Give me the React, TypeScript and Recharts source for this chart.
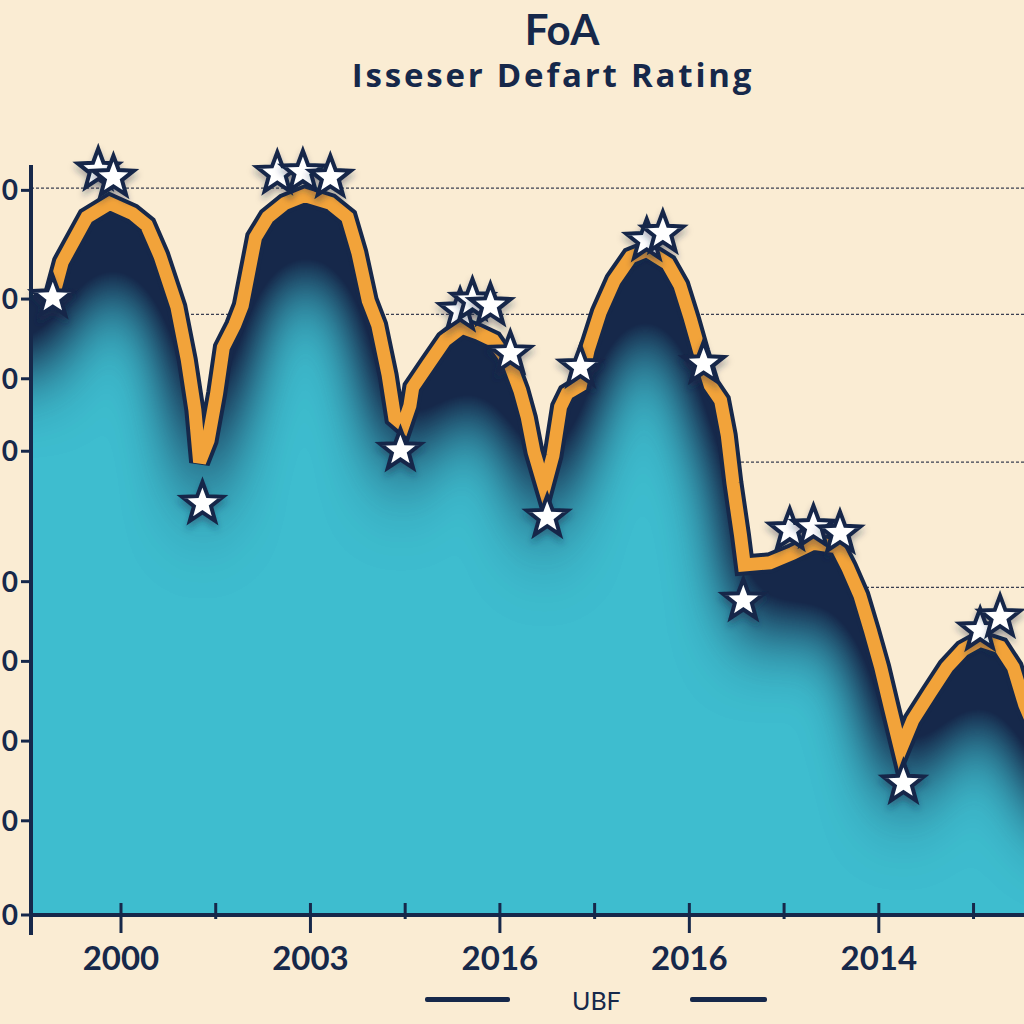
import React from "react";
import { Area, CartesianGrid, ComposedChart, Legend, Line, Scatter, XAxis, YAxis } from "recharts";

const NAVY = "#16284a";
const ORANGE = "#f2a33a";
const CYAN = "#3ebdcf";
const PAPER = "#faecd3";

const TITLE = "FoA";
const SUBTITLE = "Isseser Defart Rating";
const SERIES_NAME = "UBF";

// line vertices (period, rating)
const lineX = [
    2.8, 3.8, 6.4, 8.8, 11.2, 12.7, 14.1, 15.9, 17.0, 17.8, 18.3, 19.2, 20.1, 20.8, 22.0, 22.8, 24.2, 25.5, 27.3, 29.4,
    32.1, 33.9, 35.0, 36.1, 37.1, 38.2, 38.9, 39.8, 40.5, 40.8, 42.4, 44.2, 46.0, 47.7, 49.3, 51.1, 52.1, 52.9, 53.6,
    54.7, 55.6, 56.4, 57.1, 58.5, 59.3, 60.6, 62.1, 63.8, 65.5, 67.7, 69.0, 70.1, 71.1, 72.2, 73.3, 74.0, 74.6, 75.4,
    75.8, 78.5, 80.9, 83.1, 85.6, 86.7, 88.0, 89.1, 90.2, 91.2, 92.3, 93.6, 95.4, 97.2, 98.9, 100.7, 102.8, 104.2,
    105.4, 107.0,
];
const lineY = [
    85.2, 90.1, 96.3, 98.2, 96.8, 95.2, 91.0, 83.9, 76.6, 69.7, 62.5, 65.5, 72.0, 78.3, 81.4, 84.1, 93.5, 96.3, 98.2,
    99.3, 98.2, 96.3, 91.4, 84.8, 81.4, 74.5, 68.6, 67.6, 70.3, 72.8, 75.9, 79.3, 81.1, 80.3, 79.3, 75.9, 72.4, 68.6,
    63.9, 59.0, 63.4, 70.1, 72.0, 73.1, 77.9, 83.2, 87.6, 90.8, 91.7, 89.9, 86.9, 82.3, 77.7, 73.1, 71.0, 66.2, 59.6,
    52.4, 48.3, 48.6, 49.9, 51.3, 50.8, 48.0, 44.1, 39.3, 34.2, 28.7, 22.8, 26.9, 30.6, 34.2, 36.6, 37.9, 37.0, 34.2,
    29.0, 24.1,
];

// extra area edges that run past the plot on both sides
const areaHeadX = [-15, 0.5];
const areaHeadY = [85.6, 85.6];
const areaTailX = [125];
const areaTailY = [14];

// star markers
const starX = [
    2.8, 7.6, 9.2, 18.6, 26.5, 29.2, 32.1, 39.5, 45.8, 47.1, 49.0, 51.1, 55.0, 58.5, 65.5, 67.2, 71.5, 75.7, 80.6,
    83.1, 85.9, 92.6, 100.7, 102.8,
];
const starY = [
    85.2, 102.8, 101.8, 56.8, 102.3, 102.5, 101.8, 64.1, 83.4, 84.8, 84.1, 77.5, 54.9, 75.6, 93.1, 94.1, 76.1, 43.4,
    53.1, 53.5, 52.7, 18.2, 39.3, 41.1,
];

const xTickValues = [10, 20, 30, 40, 50, 60, 70, 80, 90, 100];
const xTickLabels = ["2000", "", "2003", "", "2016", "", "2016", "", "2014", ""];
const yTickValues = [0, 13, 24, 35, 46, 64, 74, 85, 100];
const yTickLabels = ["0", "0", "0", "0", "0", "0", "0", "0", "0"];
const gridValues = [100.3, 82.9, 62.5, 45.2];
const X_DOMAIN = [0.5, 110.5];
const Y_MAX = 103.5;

const linePoints = lineX.map((x, i) => ({ x, v: lineY[i] }));
const areaPoints = [
    ...areaHeadX.map((x, i) => ({ x, v: areaHeadY[i] })),
    ...linePoints,
    ...areaTailX.map((x, i) => ({ x, v: areaTailY[i] })),
];
const starPoints = starX.map((x, i) => ({ x, v: starY[i] }));

const FONT = "Lato, 'Open Sans', sans-serif";

function gridRows(props: any) {
    const { yAxis, offset } = props;
    const sc = yAxis && yAxis.scale;
    if (typeof sc === "function") return gridValues.map((v) => sc(v));
    if (sc && typeof sc.map === "function") return gridValues.map((v) => sc.map(v));
    return gridValues.map((v) => offset.top + offset.height * (1 - v / Y_MAX));
}

function XTick({ x, y, payload }: any) {
    const label = xTickLabels[xTickValues.indexOf(payload.value)] ?? "";
    return (
        <g>
            <line x1={x} x2={x} y1={y - 12} y2={y + (label ? 18 : 4)} stroke={NAVY} strokeWidth={3} />
            {label && (
                <text x={x} y={y + 55} textAnchor="middle" fill={NAVY} fontSize={33} fontWeight={700} fontFamily={FONT}>
                    {label}
                </text>
            )}
        </g>
    );
}

function YTick({ x, y, payload }: any) {
    const label = yTickLabels[yTickValues.indexOf(payload.value)] ?? "";
    return (
        <g>
            <line x1={x - 10} x2={x} y1={y} y2={y} stroke={NAVY} strokeWidth={3} />
            {payload.value === 0 && <line x1={x} x2={x} y1={y} y2={y + 20} stroke={NAVY} strokeWidth={4} />}
            <text x={x - 13} y={y + 10} textAnchor="end" fill={NAVY} fontSize={28} fontWeight={700} fontFamily={FONT}>
                {label}
            </text>
        </g>
    );
}

function StarMark({ cx, cy }: any) {
    const pts: string[] = [];
    for (let i = 0; i < 10; i++) {
        const r = i % 2 === 0 ? 21.5 : 9;
        const a = -Math.PI / 2 + (i * Math.PI) / 5;
        pts.push(`${cx + r * Math.cos(a)},${cy + r * Math.sin(a)}`);
    }
    return (
        <polygon
            points={pts.join(" ")}
            fill="#ffffff"
            stroke={NAVY}
            strokeWidth={4}
            strokeLinejoin="miter"
            filter="url(#starShadow)"
        />
    );
}

function LegendRow() {
    return (
        <div style={{ height: 49, display: "flex", alignItems: "center", paddingLeft: 425, fontFamily: FONT }}>
            <div style={{ width: 85, height: 5, background: NAVY, borderRadius: 2 }} />
            <span style={{ marginLeft: 62, marginRight: 69, fontSize: 25, color: NAVY, fontWeight: 400 }}>
                {SERIES_NAME}
            </span>
            <div style={{ width: 77, height: 5, background: NAVY, borderRadius: 2 }} />
        </div>
    );
}

export default function App() {
    return (
        <div
            style={{
                position: "absolute",
                left: 0,
                top: 0,
                width: 1024,
                height: 1024,
                overflow: "hidden",
                background: PAPER,
            }}
        >
            <div
                style={{
                    position: "absolute",
                    left: 562,
                    top: 8,
                    transform: "translateX(-50%)",
                    fontFamily: FONT,
                    fontWeight: 700,
                    fontSize: 42,
                    lineHeight: 1,
                    color: NAVY,
                    whiteSpace: "nowrap",
                }}
            >
                {TITLE}
            </div>
            <div
                style={{
                    position: "absolute",
                    left: 553,
                    top: 58,
                    transform: "translateX(-50%)",
                    fontFamily: "'Open Sans', sans-serif",
                    fontWeight: 700,
                    fontSize: 33,
                    letterSpacing: 2.8,
                    lineHeight: 1,
                    color: NAVY,
                    whiteSpace: "nowrap",
                }}
            >
                {SUBTITLE}
            </div>

            <ComposedChart width={1073} height={1024} margin={{ top: 165, right: 0, bottom: 0, left: 0 }}>
                <defs>
                    <filter id="inset" x="-20%" y="-20%" width="140%" height="140%" colorInterpolationFilters="sRGB">
                        <feOffset in="SourceAlpha" dy={55} result="off" />
                        <feGaussianBlur in="off" stdDeviation="32 46" result="blur" />
                        <feComposite in="SourceAlpha" in2="blur" operator="arithmetic" k2={1.8} k3={-1.8} result="mask" />
                        <feFlood floodColor={NAVY} result="navy" />
                        <feComposite in="navy" in2="mask" operator="in" result="shadow" />
                        <feMerge>
                            <feMergeNode in="SourceGraphic" />
                            <feMergeNode in="shadow" />
                        </feMerge>
                    </filter>
                    <filter id="starShadow" x="-50%" y="-50%" width="200%" height="200%">
                        <feDropShadow dx={0} dy={5} stdDeviation={3} floodColor={NAVY} floodOpacity={0.35} />
                    </filter>
                </defs>
                <CartesianGrid
                    vertical={false}
                    stroke="#3a3f52"
                    strokeWidth={1.2}
                    strokeDasharray="3 2"
                    horizontalCoordinatesGenerator={gridRows}
                />
                <XAxis
                    type="number"
                    dataKey="x"
                    domain={X_DOMAIN}
                    allowDataOverflow
                    ticks={xTickValues}
                    interval={0}
                    height={60}
                    tickSize={0}
                    tickMargin={0}
                    tickLine={false}
                    axisLine={{ stroke: NAVY, strokeWidth: 4 }}
                    tick={<XTick />}
                />
                <XAxis xAxisId="free" type="number" dataKey="x" domain={X_DOMAIN} hide />
                <YAxis
                    type="number"
                    dataKey="v"
                    domain={[0, Y_MAX]}
                    allowDataOverflow
                    ticks={yTickValues}
                    interval={0}
                    width={31}
                    tickSize={0}
                    tickMargin={0}
                    tickLine={false}
                    axisLine={{ stroke: NAVY, strokeWidth: 4 }}
                    tick={<YTick />}
                />
                <YAxis yAxisId="free" type="number" dataKey="v" domain={[0, Y_MAX]} hide />
                <Legend verticalAlign="bottom" height={49} content={() => <LegendRow />} />
                <Area
                    data={areaPoints}
                    dataKey="v"
                    name={SERIES_NAME}
                    type="linear"
                    baseValue={-30}
                    fill={CYAN}
                    fillOpacity={1}
                    stroke="none"
                    filter="url(#inset)"
                    isAnimationActive={false}
                />
                <Line
                    data={linePoints}
                    dataKey="v"
                    xAxisId="free"
                    yAxisId="free"
                    type="linear"
                    stroke={NAVY}
                    strokeWidth={21}
                    strokeLinejoin="miter"
                    dot={false}
                    legendType="none"
                    isAnimationActive={false}
                />
                <Line
                    data={linePoints}
                    dataKey="v"
                    xAxisId="free"
                    yAxisId="free"
                    type="linear"
                    stroke={ORANGE}
                    strokeWidth={13}
                    strokeLinejoin="miter"
                    dot={false}
                    legendType="none"
                    isAnimationActive={false}
                />
                <Scatter
                    data={starPoints}
                    dataKey="v"
                    xAxisId="free"
                    yAxisId="free"
                    shape={(p: any) => <StarMark {...p} />}
                    legendType="none"
                    isAnimationActive={false}
                />
            </ComposedChart>
        </div>
    );
}
